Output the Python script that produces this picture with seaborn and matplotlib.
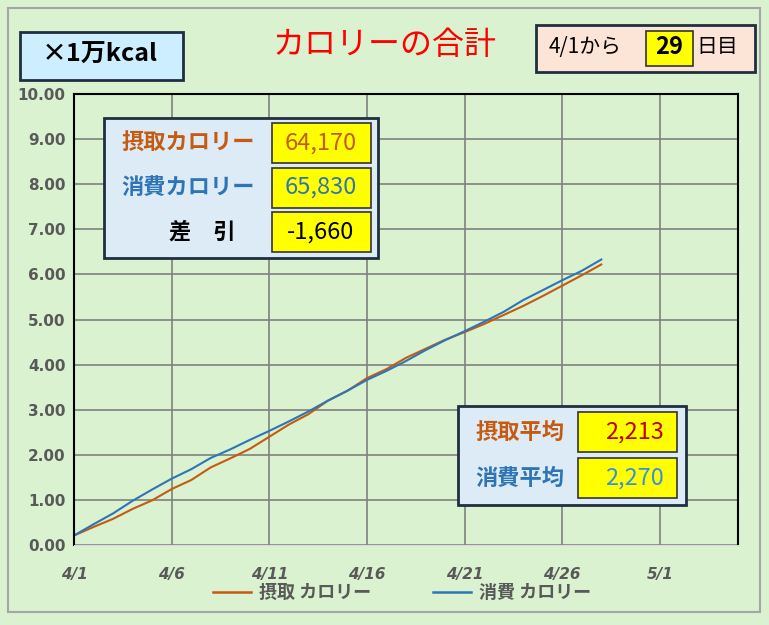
import matplotlib
matplotlib.use("Agg")
import matplotlib.pyplot as plt
from matplotlib.patches import Rectangle
import seaborn as sns
import pandas as pd

# cumulative kcal (x10,000) per day from 4/1
intake = [0.21, 0.40, 0.58, 0.80, 0.99, 1.24, 1.44, 1.72, 1.92, 2.13, 2.40, 2.67, 2.90, 3.20,
          3.42, 3.70, 3.90, 4.15, 4.35, 4.55, 4.72, 4.90, 5.10, 5.30, 5.52, 5.75, 5.98, 6.22]
burned = [0.21, 0.46, 0.70, 0.98, 1.23, 1.47, 1.68, 1.93, 2.12, 2.33, 2.53, 2.74, 2.96, 3.20,
          3.42, 3.66, 3.86, 4.08, 4.32, 4.54, 4.74, 4.95, 5.17, 5.43, 5.65, 5.87, 6.08, 6.33]
tick_labels = ["4/1", "4/6", "4/11", "4/16", "4/21", "4/26", "5/1"]
series_names = ["摂取 カロリー", "消費 カロリー"]
summary_labels = ["摂取カロリー", "消費カロリー", "差　引"]
summary_values = ["64,170", "65,830", "-1,660"]
avg_labels = ["摂取平均", "消費平均"]
avg_values = ["2,213", "2,270"]
days = 29

C_IN, C_OUT = "#C55A11", "#2E75B6"
BG = "#DAF2D0"
JP = "Noto Sans CJK JP"
plt.rcParams["font.family"] = [JP, "DejaVu Sans"]

df = pd.DataFrame({"day": list(range(len(intake))) * 2,
                   "val": intake + burned,
                   "series": [series_names[0]] * len(intake) + [series_names[1]] * len(burned)})

W, H = 769, 625
fig = plt.figure(figsize=(W / 100, H / 100), dpi=100, facecolor=BG)
ax = fig.add_axes([74 / W, 1 - 545 / H, (738 - 74) / W, (545 - 94) / H])
ax.set_facecolor(BG)
sns.lineplot(data=df, x="day", y="val", hue="series", palette=[C_IN, C_OUT], lw=1.5, ax=ax, legend=False)
ax.set_xlim(0, 34)
ax.set_ylim(0, 10)
ax.set_xticks(range(0, 31, 5))
ax.set_xticklabels(tick_labels, style="italic", fontweight="bold", color="#595959", fontsize=11,
                   family="Liberation Sans Narrow")
ax.set_yticks(range(0, 11))
ax.set_yticklabels([f"{v:.2f}" for v in range(0, 11)], fontweight="bold", color="#595959", fontsize=11,
                   family="Liberation Sans Narrow")
ax.tick_params(length=0, pad=6)
ax.tick_params(axis="x", pad=16)
ax.grid(True, color="#808080", lw=1.2)
ax.set_xlabel(""); ax.set_ylabel("")
for s in ["left", "right", "top"]:
    ax.spines[s].set_color("black"); ax.spines[s].set_linewidth(1.5)
ax.spines["bottom"].set_color("#D9D9D9")


def box(x0, y0, x1, y1, fc, ec="#1F2F3F", lw=2.0):
    fig.patches.append(Rectangle((x0 / W, 1 - y1 / H), (x1 - x0) / W, (y1 - y0) / H,
                                 transform=fig.transFigure, fc=fc, ec=ec, lw=lw, zorder=5))


def txt(x, y, s, **kw):
    fig.text(x / W, 1 - y / H, s, va="center", zorder=6, **kw)


# outer frame
box(8, 8, 760, 612, "none", ec="#A6A6A6", lw=1.5)

box(20, 32, 183, 80, "#CCEEFF")
txt(100, 55, "×1万kcal", ha="center", fontsize=18, fontweight="bold")
txt(385, 45, "カロリーの合計", ha="center", fontsize=23, color="#FF0000")
box(536, 25, 755, 72, "#FCE4D6")
box(646, 31, 693, 66, "#FFFF00", ec="#333333", lw=1.2)
txt(549, 47, "4/1から", ha="left", fontsize=15)
txt(669, 47, str(days), ha="center", fontsize=17, fontweight="bold", style="italic")
txt(696, 47, "日目", ha="left", fontsize=15)

box(104, 118, 378, 258, "#DDEBF7")
for i, (lab, val, c) in enumerate(zip(summary_labels, summary_values, [C_IN, C_OUT, "black"])):
    yc = 143 + i * 44.5
    box(272, yc - 20, 371, yc + 20, "#FFFF00", ec="#333333", lw=1.2)
    txt(188 if i < 2 else 202, yc, lab, ha="center", fontsize=16, fontweight="bold", color=c)
    txt(321, yc, val, ha="center", fontsize=17, color=c if i < 2 else "black")

box(458, 406, 686, 505, "#DDEBF7")
for i, (lab, val, c, vc) in enumerate(zip(avg_labels, avg_values, [C_IN, C_OUT], ["#C00000", "#3A8FE0"])):
    yc = 432 + i * 46
    box(578, yc - 20, 677, yc + 20, "#FFFF00", ec="#333333", lw=1.2)
    txt(520, yc, lab, ha="center", fontsize=16, fontweight="bold", color=c)
    txt(664, yc, val, ha="right", fontsize=17, color=vc)

# legend
for x0, name, c in [(213, series_names[0], C_IN), (433, series_names[1], C_OUT)]:
    fig.lines.append(plt.Line2D([x0 / W, (x0 + 38) / W], [1 - 592 / H] * 2, color=c, lw=1.8,
                                transform=fig.transFigure))
    txt(x0 + 46, 592, name, ha="left", fontsize=13, fontweight="bold", color="#595959")

fig.savefig("out.png", dpi=100, facecolor=BG)
